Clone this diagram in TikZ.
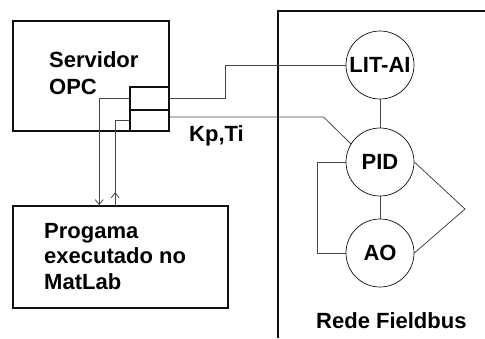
\documentclass[tikz,border=0pt]{standalone}
\usepackage{fontspec}
\setmainfont{Liberation Sans}
\usepackage{tikz}
\usetikzlibrary{arrows.meta, positioning, calc}
\definecolor{mydark}{RGB}{15,15,15}
\definecolor{mywire}{RGB}{70,70,70}
\tikzset{
  block/.style={rectangle, draw=mydark, line width=1.6pt, inner sep=0pt},
  port/.style={rectangle, draw=mydark, line width=1.2pt, inner sep=0pt,
    minimum width=39pt},
  fbnode/.style={circle, draw=mydark, line width=0.7pt, minimum size=68pt,
    inner sep=0pt, font=\bfseries\fontsize{22}{26}\selectfont},
  txt/.style={inner sep=0pt, align=left, font=\bfseries\fontsize{22}{27}\selectfont},
  wire/.style={draw=mywire, line width=0.8pt},
  arrow/.style={-{Straight Barb[length=5pt,width=8pt]}}
}

\begin{document}
\begin{tikzpicture}[x=1pt, y=-1pt]
  \useasboundingbox (0,0) rectangle (485,338);

  % Servidor OPC
  \node[block, minimum width=156pt, minimum height=110pt] (srv) at (91,76) {};
  \node[txt, anchor=north west] (srvtxt) at (49,51) {Servidor\\OPC};
  \node[port, minimum height=23pt] (pa) at (149.5,98.5) {};
  \node[port, minimum height=21pt] (pb) at (149.5,120.5) {};

  % Matlab
  \node[block, minimum width=215pt, minimum height=102pt] (mat) at (120.5,257) {};
  \node[txt, anchor=north west, font=\bfseries\fontsize{22}{25.5}\selectfont]
    (mattxt) at (44,223) {Progama\\executado no\\MatLab};

  % Rede Fieldbus
  \draw[draw=mydark, line width=1.6pt] (278,338) |- (485,11);
  \node[fbnode] (lit) at (380,65) {LIT-AI};
  \node[fbnode] (pid) at (380,162) {PID};
  \node[fbnode] (ao) at (380,253) {AO};
  \coordinate (apex) at (465,209);
  \node[txt, anchor=base west] (rede) at (316,328) {Rede Fieldbus};
  \node[txt, anchor=base west] (kpti) at (189,141) {Kp,Ti};

  % ligacoes
  \draw[wire] (pa.east) -- ++(56,0) |- (lit.west);
  \draw[wire] ([yshift=3.5pt]pb.east) -- ++(154,0) -- (pid.148);
  \draw[wire, arrow] (pa.west) -| ([xshift=87pt]mat.north west);
  \draw[wire] (pb.west) -| ([xshift=103pt]mat.north west);
  \draw[wire, arrow] ([xshift=103pt]mat.north west) -- ++(0,-13);
  \draw[wire] (lit) -- (pid);
  \draw[wire] (pid) -- (ao);
  \draw[wire] (pid.west) -- ++(-28,0) |- (ao.west);
  \draw[wire] (pid.east) -- (apex) -- (ao.east);
\end{tikzpicture}
\end{document}
